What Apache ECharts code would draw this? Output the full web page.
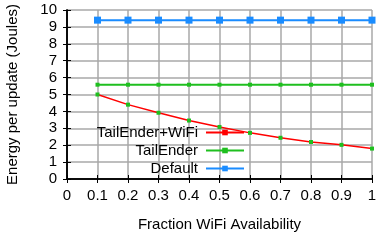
<!DOCTYPE html>
<html>
<head>
<meta charset="utf-8">
<script src="https://cdn.jsdelivr.net/npm/echarts@6/dist/echarts.min.js"></script>
<style>
  html, body { margin: 0; padding: 0; background: #fff; }
  #chart { width: 377px; height: 240px; }
</style>
</head>
<body>
<div id="chart"></div>
<script>
const fractions = [0.1, 0.2, 0.3, 0.4, 0.5, 0.6, 0.7, 0.8, 0.9, 1.0];
const tailEnderWifi = [5.0, 4.4, 3.92, 3.46, 3.08, 2.73, 2.44, 2.19, 2.02, 1.8];
const tailEnder = [5.58, 5.58, 5.58, 5.58, 5.58, 5.58, 5.58, 5.58, 5.58, 5.58];
const defaultVals = [9.4, 9.4, 9.4, 9.4, 9.4, 9.4, 9.4, 9.4, 9.4, 9.4];

const font = "Liberation Sans, Arial, sans-serif";

function pairs(vals) {
  return fractions.map((x, i) => [x, vals[i]]);
}

let myChart = echarts.init(document.getElementById("chart"));

let option = {
  animation: false,
  textStyle: { fontFamily: font },
  grid: { left: 67, right: 5, top: 10, bottom: 61, outerBoundsMode: "none" },
  legend: {
    orient: "vertical",
    right: 127,
    top: 120,
    align: "right",
    itemWidth: 38,
    itemHeight: 7,
    itemGap: 3,
    textStyle: { fontSize: 15, color: "#000", fontFamily: font, padding: [0, 3, 0, 0] },
    data: [
      { name: "TailEnder+WiFi", itemStyle: { color: "#ff0000" } },
      { name: "TailEnder" },
      { name: "Default" },
    ],
  },
  xAxis: [
    {
      type: "value",
      min: 0,
      max: 1,
      interval: 0.1,
      name: "Fraction WiFi Availability",
      nameLocation: "middle",
      nameGap: 38,
      nameTextStyle: { fontSize: 15, color: "#000" },
      axisLine: { show: true, lineStyle: { color: "#000", width: 1.5 } },
      axisTick: { show: true, inside: true, length: 4, lineStyle: { color: "#000" } },
      axisLabel: {
        fontSize: 15,
        color: "#000",
        margin: 9,
        formatter: function (v) {
          if (v === 0) return "0";
          if (Math.abs(v - 1) < 1e-9) return "1";
          return v.toFixed(1);
        },
      },
      splitLine: { show: true, lineStyle: { color: "#a8a8a8", width: 1.5 } },
    },
    {
      type: "value",
      position: "top",
      min: 0,
      max: 1,
      interval: 0.1,
      axisLine: { show: true, lineStyle: { color: "#000", width: 1.5 } },
      axisTick: { show: true, inside: true, length: 4, lineStyle: { color: "#000" } },
      axisLabel: { show: false },
      splitLine: { show: false },
    },
  ],
  yAxis: [
    {
      type: "value",
      min: 0,
      max: 10,
      interval: 1,
      name: "Energy per update (Joules)",
      nameLocation: "middle",
      nameGap: 47,
      nameTextStyle: { fontSize: 15, color: "#000" },
      axisLine: { show: true, lineStyle: { color: "#000", width: 1.5 } },
      axisTick: { show: true, inside: true, length: 4, lineStyle: { color: "#000" } },
      axisLabel: { fontSize: 15, color: "#000", margin: 10 },
      splitLine: { show: true, lineStyle: { color: "#a8a8a8", width: 1.5 } },
    },
    {
      type: "value",
      position: "right",
      min: 0,
      max: 10,
      interval: 1,
      axisLine: { show: true, lineStyle: { color: "#000", width: 1.5 } },
      axisTick: { show: true, inside: true, length: 4, lineStyle: { color: "#000" } },
      axisLabel: { show: false },
      splitLine: { show: false },
    },
  ],
  series: [
    {
      name: "TailEnder+WiFi",
      type: "line",
      data: pairs(tailEnderWifi),
      symbol: "rect",
      symbolSize: 4,
      lineStyle: { color: "#ff0000", width: 1.5 },
      itemStyle: { color: "#1fbf1f" },
      z: 4,
    },
    {
      name: "TailEnder",
      type: "line",
      data: pairs(tailEnder),
      symbol: "rect",
      symbolSize: 4,
      lineStyle: { color: "#1fbf1f", width: 2 },
      itemStyle: { color: "#1fbf1f" },
      z: 3,
    },
    {
      name: "Default",
      type: "line",
      data: pairs(defaultVals),
      symbol: "rect",
      symbolSize: 7,
      lineStyle: { color: "#1a8cff", width: 2 },
      itemStyle: { color: "#1a8cff" },
      z: 3,
    },
  ],
};

myChart.setOption(option);
</script>
</body>
</html>
